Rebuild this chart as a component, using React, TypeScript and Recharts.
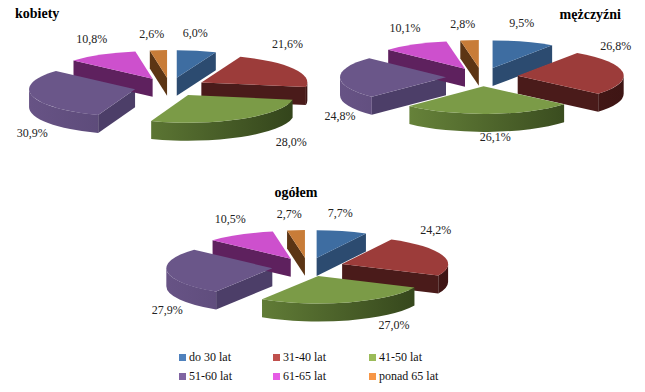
import React from "react";
import { Pie, PieChart } from "recharts";

const CATEGORIES = ["do 30 lat", "31-40 lat", "41-50 lat", "51-60 lat", "61-65 lat", "ponad 65 lat"];
const KOBIETY = [6.0, 21.6, 28.0, 30.9, 10.8, 2.6];
const MEZCZYZNI = [9.5, 26.8, 26.1, 24.8, 10.1, 2.8];
const OGOLEM = [7.7, 24.2, 27.0, 27.9, 10.5, 2.7];

const LEGEND_COLORS = ["#4F81BD", "#C0504D", "#9BBB59", "#8064A2", "#E65CE6", "#F79646"];
const TOP_COLORS = ["#3E6DA1", "#9C3C3A", "#7B9B47", "#6A5689", "#CD50CD", "#C87C38"];
const FACE_COLORS = ["#2C4B70", "#4A1B1A", "#3F5220", "#4C3E68", "#5E215E", "#5C3514"];
const WALL_LIGHT = ["#34608F", "#5A2220", "#6F8D3F", "#675385", "#A03FA0", "#8A5426"];
const WALL_DARK = ["#1F3652", "#3E1514", "#33441B", "#4A3C65", "#4E1A4E", "#4A2A10"];

const FONT = "'Liberation Serif', 'DejaVu Serif', 'Times New Roman', serif";
const RX = 106;
const K = 0.26;
const DEPTH = 18;
const EXPLODE = 36;

const toRows = (values: number[]) =>
  values.map((value, idx) => ({ name: CATEGORIES[idx], value, idx }));

const rad = (d: number) => (d * Math.PI) / 180;

function proj(cx: number, cy: number, r: number, a: number): [number, number] {
  return [cx + r * Math.cos(rad(a)), cy - r * K * Math.sin(rad(a))];
}

function apexOf(cx: number, cy: number, mid: number): [number, number] {
  return [cx + EXPLODE * Math.cos(rad(mid)), cy - EXPLODE * K * Math.sin(rad(mid))];
}

function SliceSide(props: any) {
  const { cx, cy, outerRadius: r, startAngle, endAngle, payload } = props;
  const idx = payload.idx;
  const hi = Math.max(startAngle, endAngle);
  const lo = Math.min(startAngle, endAngle);
  const [ax, ay] = apexOf(cx, cy, (hi + lo) / 2);
  const parts: React.ReactNode[] = [];

  const face = (a: number, key: string) => {
    const [px, py] = proj(ax, ay, r, a);
    parts.push(
      <path
        key={key}
        d={`M${ax},${ay} L${px},${py} L${px},${py + DEPTH} L${ax},${ay + DEPTH} Z`}
        fill={FACE_COLORS[idx]}
      />
    );
  };
  if (Math.cos(rad(hi)) < -0.01) face(hi, "s");
  if (Math.cos(rad(lo)) > 0.01) face(lo, "e");

  const wHi = Math.min(hi, 0);
  const wLo = Math.max(lo, -180);
  if (wHi > wLo) {
    const [x1, y1] = proj(ax, ay, r, wHi);
    const [x2, y2] = proj(ax, ay, r, wLo);
    const gid = `wall-${idx}-${Math.round(cx)}-${Math.round(cy)}`;
    parts.push(
      <defs key="d">
        <linearGradient id={gid} gradientUnits="userSpaceOnUse" x1={ax - r} y1={0} x2={ax + r} y2={0}>
          <stop offset="0" stopColor={WALL_LIGHT[idx]} />
          <stop offset="1" stopColor={WALL_DARK[idx]} />
        </linearGradient>
      </defs>
    );
    parts.push(
      <path
        key="w"
        d={`M${x1},${y1} A${r},${r * K} 0 0 1 ${x2},${y2} L${x2},${y2 + DEPTH} A${r},${r * K} 0 0 0 ${x1},${y1 + DEPTH} Z`}
        fill={`url(#${gid})`}
      />
    );
  }
  return <g>{parts}</g>;
}

function SliceTop(props: any) {
  const { cx, cy, outerRadius: r, startAngle, endAngle, payload } = props;
  const hi = Math.max(startAngle, endAngle);
  const lo = Math.min(startAngle, endAngle);
  const [ax, ay] = apexOf(cx, cy, (hi + lo) / 2);
  const [x1, y1] = proj(ax, ay, r, hi);
  const [x2, y2] = proj(ax, ay, r, lo);
  const large = hi - lo > 180 ? 1 : 0;
  return (
    <path
      d={`M${ax},${ay} L${x1},${y1} A${r},${r * K} 0 ${large} 1 ${x2},${y2} Z`}
      fill={TOP_COLORS[payload.idx]}
    />
  );
}

// labels sit just outside the slice: above its top face for the back half,
// below its side wall for the front half
function renderLabel(props: any) {
  const { cx, cy, outerRadius: r, midAngle, value } = props;
  const [ax, ay] = apexOf(cx, cy, midAngle);
  const [ox, oy] = proj(ax, ay, r, midAngle);
  const c = Math.cos(rad(midAngle));
  const s = Math.sin(rad(midAngle));
  let x: number;
  let y: number;
  if (s >= 0) {
    x = ox + (c < 0 ? -6 + 8 * c : -7 * c);
    y = oy - 16 - 10 * Math.max(0, c);
  } else {
    x = ox + (c > 0 ? Math.min(50, 160 * c) : 0);
    y = oy + DEPTH + 5 + 15 * Math.max(0, -c);
  }
  return (
    <text
      x={x}
      y={y}
      textAnchor="middle"
      dominantBaseline="central"
      style={{ fontFamily: FONT }}
      fontSize={12}
      fill="#222"
    >
      {value.toFixed(1).replace(".", ",")}%
    </text>
  );
}

const PIES = [
  { key: "k", values: KOBIETY, cx: 165, cy: 82 },
  { key: "m", values: MEZCZYZNI, cx: 477, cy: 72 },
  { key: "o", values: OGOLEM, cx: 303, cy: 262 },
];

export default function App() {
  return (
    <div style={{ position: "absolute", left: 0, top: 0, width: 645, height: 392, background: "#fff" }}>
      <PieChart width={645} height={392}>
        {PIES.map((p) => (
          <Pie
            key={`${p.key}-side`}
            data={toRows(p.values)}
            dataKey="value"
            nameKey="name"
            cx={p.cx}
            cy={p.cy}
            outerRadius={RX}
            startAngle={90}
            endAngle={-270}
            shape={SliceSide}
            isAnimationActive={false}
          />
        ))}
        {PIES.map((p) => (
          <Pie
            key={`${p.key}-top`}
            data={toRows(p.values)}
            dataKey="value"
            nameKey="name"
            cx={p.cx}
            cy={p.cy}
            outerRadius={RX}
            startAngle={90}
            endAngle={-270}
            shape={SliceTop}
            label={renderLabel}
            labelLine={false}
            isAnimationActive={false}
          />
        ))}
      </PieChart>

      <div style={{ position: "absolute", left: 15, top: 6, fontFamily: FONT, fontWeight: "bold", fontSize: 14 }}>
        kobiety
      </div>
      <div style={{ position: "absolute", right: 24, top: 7, fontFamily: FONT, fontWeight: "bold", fontSize: 14 }}>
        mężczyźni
      </div>
      <div
        style={{
          position: "absolute",
          left: 296,
          top: 185,
          transform: "translateX(-50%)",
          fontFamily: FONT,
          fontWeight: "bold",
          fontSize: 14,
        }}
      >
        ogółem
      </div>

      <div
        style={{
          position: "absolute",
          left: 179,
          top: 349,
          display: "grid",
          gridTemplateColumns: "94px 96px 100px",
          rowGap: 2,
          fontFamily: FONT,
          fontSize: 12,
          color: "#111",
        }}
      >
        {CATEGORIES.map((c, i) => (
          <div key={c} style={{ display: "flex", alignItems: "center", height: 17 }}>
            <span style={{ width: 7, height: 7, background: LEGEND_COLORS[i], marginRight: 3, display: "inline-block" }} />
            {c}
          </div>
        ))}
      </div>
    </div>
  );
}
